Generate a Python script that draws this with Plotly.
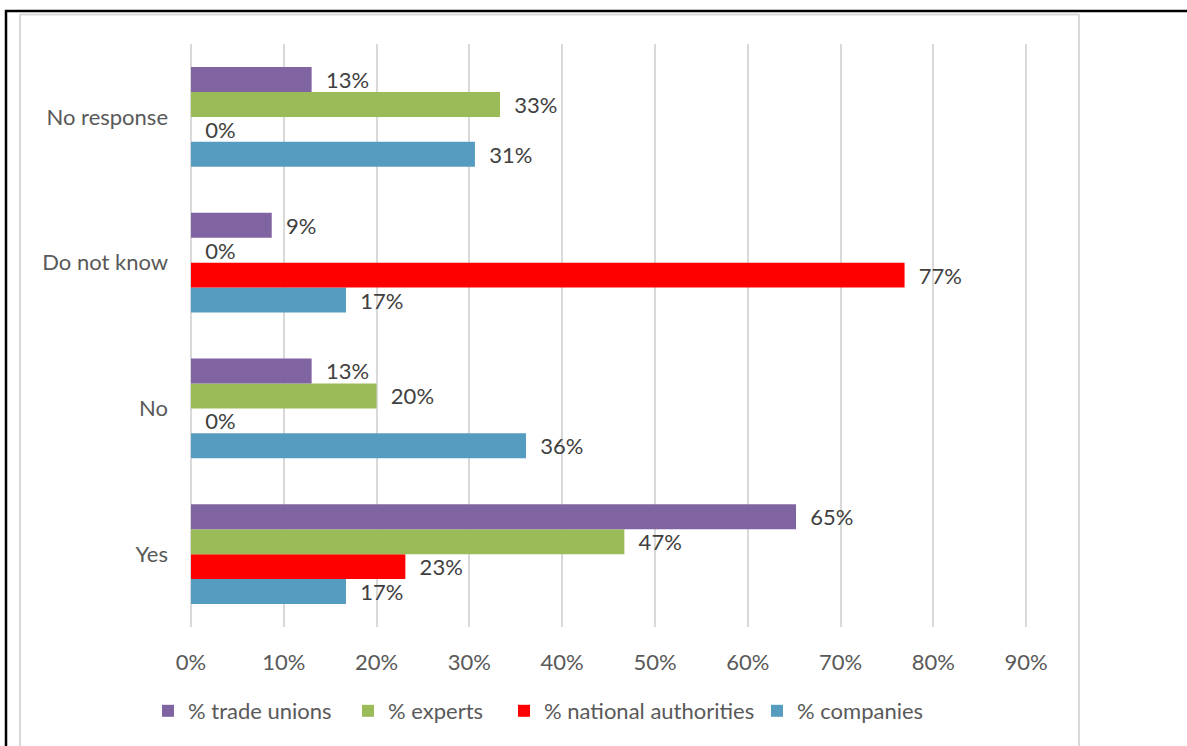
import plotly.graph_objects as go

# Survey answers (bottom to top on the category axis)
categories = ["Yes", "No", "Do not know", "No response"]

# Share of respondents per group, as fractions
trade_unions = [0.652, 0.130, 0.087, 0.130]
experts = [0.467, 0.200, 0.000, 0.333]
national_authorities = [0.231, 0.000, 0.769, 0.000]
companies = [0.167, 0.361, 0.167, 0.306]

tick_values = [0, 0.1, 0.2, 0.3, 0.4, 0.5, 0.6, 0.7, 0.8, 0.9]
tick_labels = ["0%", "10%", "20%", "30%", "40%", "50%", "60%", "70%", "80%", "90%"]

# name, values, colour, legend slot, left edge of the legend entry (px)
series = [
    ("% companies", companies, "#569CC0", "legend5", 757),
    ("% national authorities", national_authorities, "#FF0000", "legend4", 504),
    ("% experts", experts, "#9BBB59", "legend3", 348),
    ("% trade unions", trade_unions, "#8064A2", "legend2", 148),
]

FONT = "Lato, Calibri, sans-serif"

# Plot area in pixels: x 191..1028, y 44..627
L, T, R, B = 191, 44, 1028, 627
W, H = 1187, 746
pw, ph = R - L, B - T


def px_x(p):
    return (p - L) / pw


def px_y(p):
    return (B - p) / ph


fig = go.Figure()
for name, values, color, leg, _ in series:
    fig.add_trace(go.Bar(
        name=name,
        y=categories,
        x=values,
        orientation="h",
        legend=leg,
        marker=dict(color=color, line=dict(width=0)),
        texttemplate="  %{x:.0%}",
        textposition="outside",
        textfont=dict(family=FONT, size=22, color="#404040"),
        constraintext="none",
        cliponaxis=False,
    ))

legend_style = dict(
    orientation="h",
    xanchor="left",
    y=px_y(711), yanchor="middle",
    font=dict(family=FONT, size=22, color="#595959"),
    itemwidth=30,
    bgcolor="rgba(0,0,0,0)",
)
legends = {leg: dict(legend_style, x=px_x(left)) for _, _, _, leg, left in series}

shapes = [
    # light frame around the chart
    dict(type="line", xref="paper", yref="paper", x0=px_x(20), x1=px_x(20),
         y0=px_y(14), y1=px_y(760), line=dict(color="#D9D9D9", width=2)),
    dict(type="line", xref="paper", yref="paper", x0=px_x(20), x1=px_x(1079),
         y0=px_y(14.5), y1=px_y(14.5), line=dict(color="#D9D9D9", width=2)),
    dict(type="line", xref="paper", yref="paper", x0=px_x(1079), x1=px_x(1079),
         y0=px_y(14), y1=px_y(760), line=dict(color="#D9D9D9", width=2)),
    # outer black border
    dict(type="line", xref="paper", yref="paper", x0=px_x(5), x1=px_x(1200),
         y0=px_y(11), y1=px_y(11), line=dict(color="#000000", width=2.5)),
    dict(type="line", xref="paper", yref="paper", x0=px_x(6), x1=px_x(6),
         y0=px_y(10), y1=px_y(760), line=dict(color="#000000", width=2.5)),
]

fig.update_layout(
    width=W, height=H,
    margin=dict(l=L, r=W - R, t=T, b=H - B, pad=0),
    paper_bgcolor="white",
    plot_bgcolor="white",
    barmode="group",
    bargap=0.314,
    bargroupgap=0,
    shapes=shapes,
    font=dict(family=FONT, size=22, color="#595959"),
    xaxis=dict(
        range=[0, 0.902],
        tickvals=tick_values,
        ticktext=tick_labels,
        showgrid=True,
        gridcolor="#D9D9D9",
        gridwidth=1.7,
        zeroline=True,
        zerolinecolor="#D9D9D9",
        zerolinewidth=1.7,
        showline=False,
        ticks="",
        ticklabelstandoff=20,
        tickfont=dict(family=FONT, size=22, color="#595959"),
        fixedrange=True,
    ),
    yaxis=dict(
        categoryorder="array",
        categoryarray=categories,
        showgrid=False,
        zeroline=False,
        showline=False,
        ticks="",
        ticklabelstandoff=22,
        tickfont=dict(family=FONT, size=22, color="#595959"),
        fixedrange=True,
    ),
    **legends,
)

fig.write_html("out.html")
